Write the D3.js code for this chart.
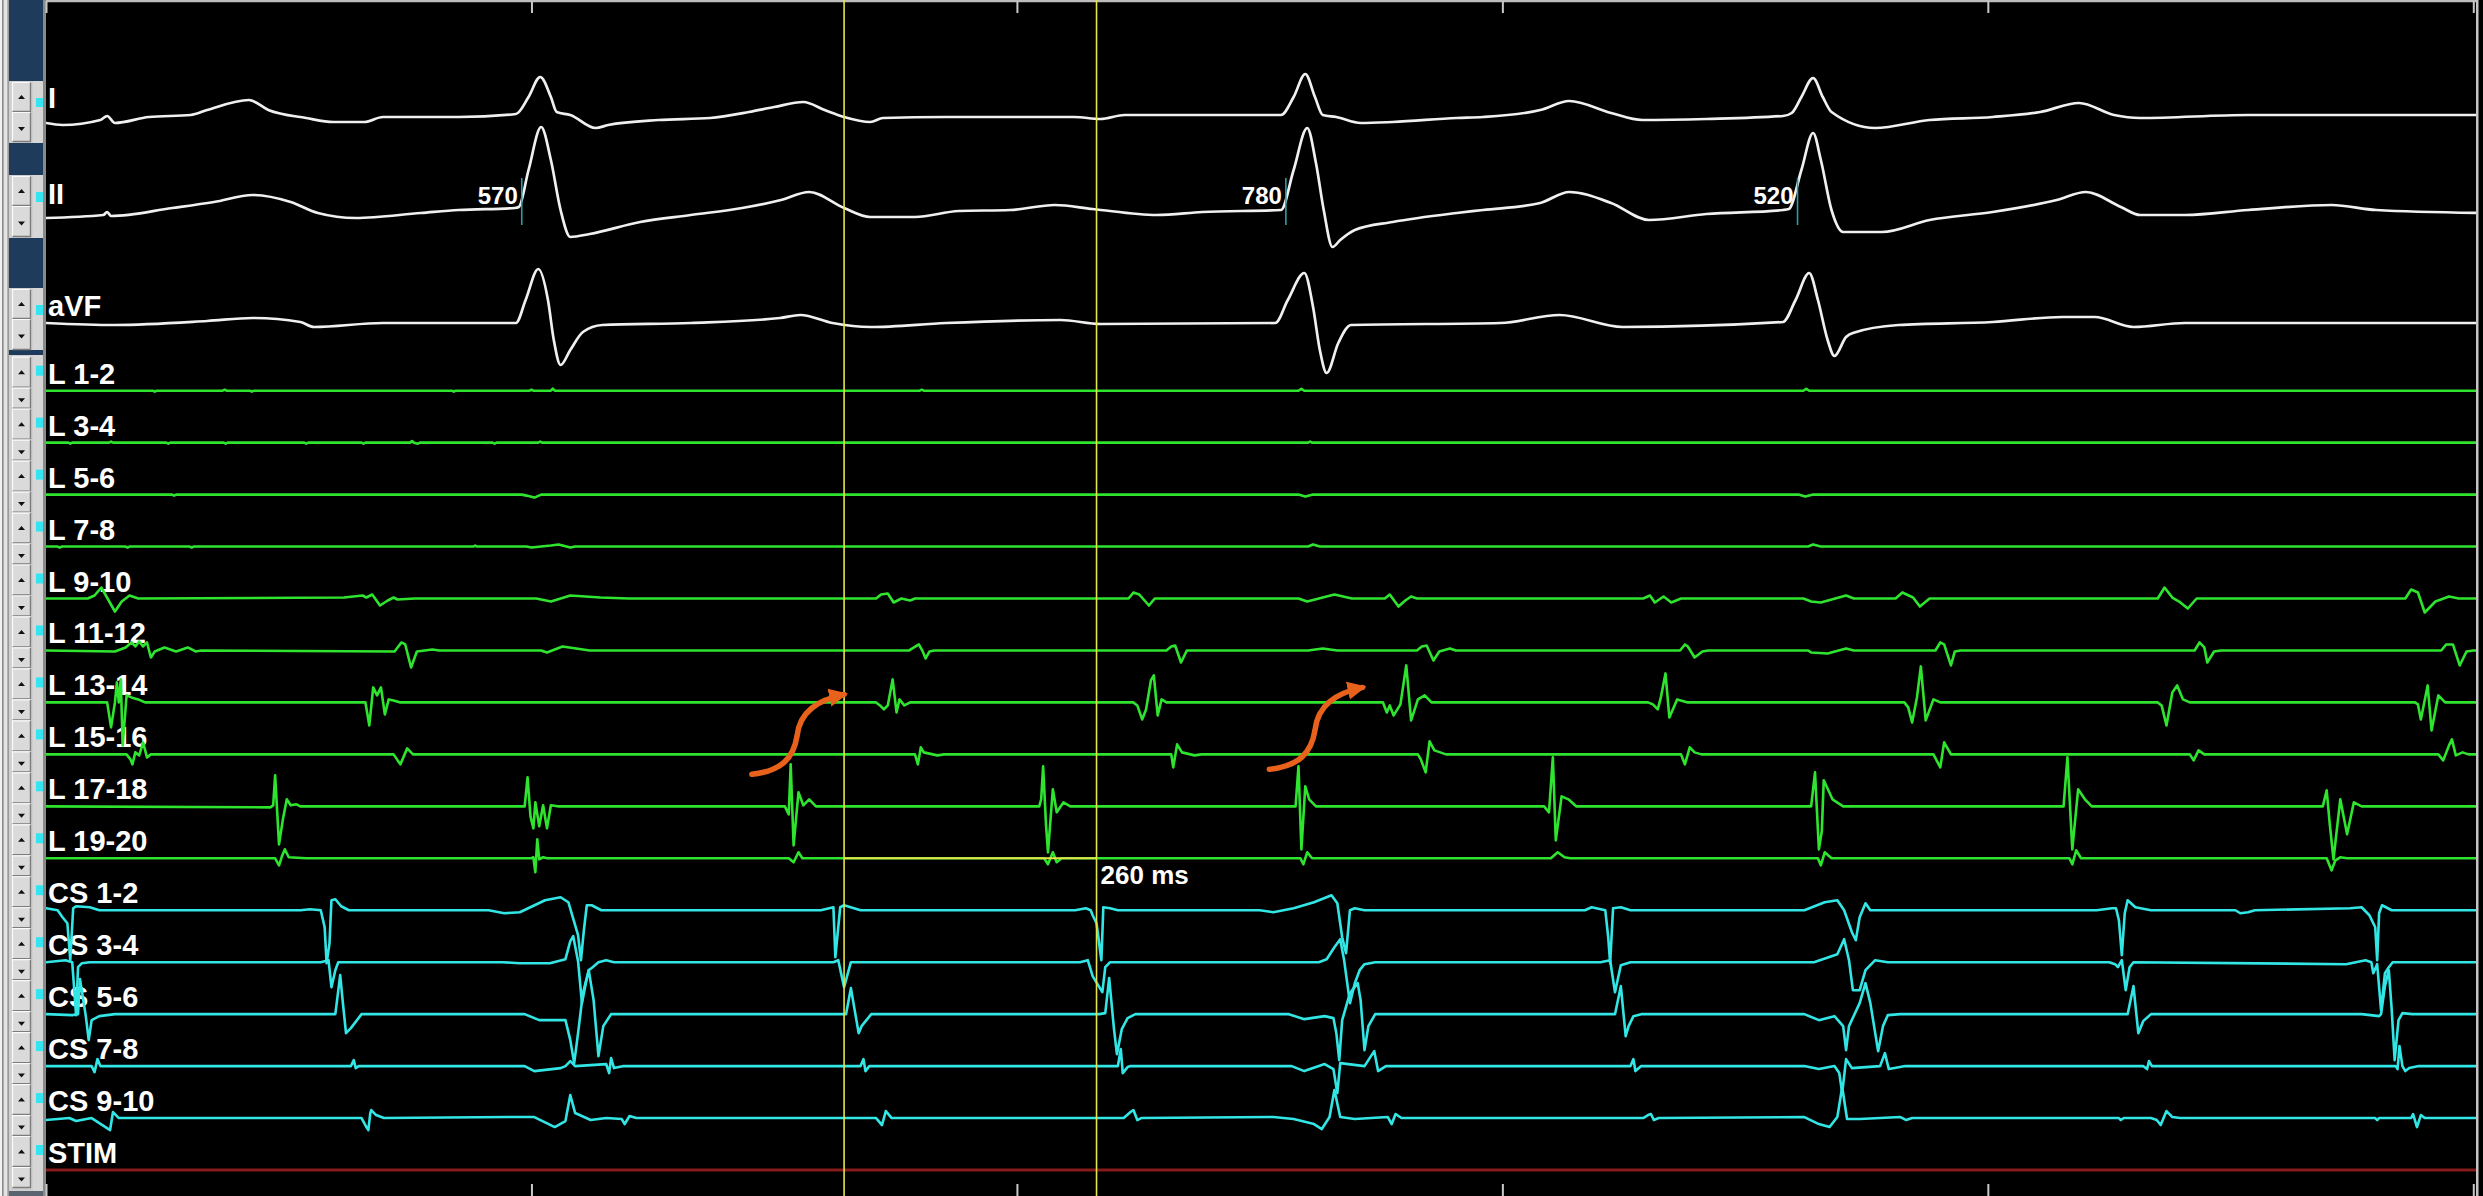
<!DOCTYPE html>
<html><head><meta charset="utf-8">
<script src="https://cdn.jsdelivr.net/npm/d3@7"></script>
<style>html,body{margin:0;padding:0;background:#000;overflow:hidden}</style>
</head><body><svg id="c" width="2483" height="1196"></svg>
<script>
// ---------------- DATA (time in ms, amplitude in display units, up = positive) ----------------
const timeTicks = [0, 500, 1000, 1500, 2000, 2500];
const ecgNames = ["I", "II", "aVF"];
const laneNames = ["L 1-2","L 3-4","L 5-6","L 7-8","L 9-10","L 11-12","L 13-14","L 15-16","L 17-18","L 19-20",
                   "CS 1-2","CS 3-4","CS 5-6","CS 7-8","CS 9-10","STIM"];

const leadI = [[0,-5],[17,-7],[56,-2],[63,2],[71,-5],[106,1],[149,3],[166,8],[209,18],[229,8],[268,0],[296,-4],[328,-4],[347,1],[425,1],[484,4],[497,21],[509,41],[520,21],[526,6],[540,3],[566,-10],[579,-7],[631,-2],[684,0],[724,6],[750,11],[780,16],[802,8],[822,1],[849,-4],[862,0],[927,1],[993,1],[1059,1],[1086,-1],[1111,3],[1272,3],[1285,21],[1297,44],[1307,21],[1315,3],[1329,1],[1354,-5],[1387,-4],[1453,0],[1480,1],[1539,8],[1569,17],[1612,5],[1644,-2],[1710,-1],[1789,2],[1798,5],[1808,21],[1820,40],[1830,21],[1839,6],[1884,-10],[1940,-2],[2005,1],[2054,6],[2094,15],[2130,3],[2157,0],[2268,3],[2510,3]];
const leadII = [[0,-6],[59,-3],[63,0],[67,-4],[130,4],[173,10],[213,17],[252,10],[280,-1],[319,-6],[386,-1],[425,2],[483,4],[487,5],[497,42],[510,85],[520,52],[530,2],[540,-25],[560,-22],[612,-10],[664,-3],[717,4],[757,12],[786,20],[822,4],[849,-5],[895,-5],[940,1],[993,2],[1039,7],[1078,3],[1144,-3],[1191,0],[1272,2],[1285,42],[1299,84],[1308,49],[1316,2],[1325,-35],[1333,-28],[1348,-18],[1387,-10],[1453,-1],[1480,2],[1539,9],[1569,20],[1612,9],[1651,-8],[1710,-2],[1789,2],[1795,3],[1808,42],[1820,79],[1828,52],[1839,2],[1851,-20],[1891,-20],[1940,-8],[2005,0],[2071,12],[2101,20],[2137,5],[2157,-3],[2203,-3],[2268,2],[2354,7],[2400,2],[2510,-1]];
const leadAVF = [[0,0],[71,-2],[166,2],[213,5],[262,1],[276,-4],[347,0],[484,0],[494,23],[507,54],[517,23],[523,-17],[530,-42],[540,-27],[553,-9],[573,-2],[664,0],[756,5],[777,8],[810,0],[849,-4],[927,0],[1045,3],[1086,-1],[1266,0],[1279,23],[1296,50],[1305,16],[1312,-27],[1319,-50],[1331,-20],[1344,-2],[1498,0],[1559,8],[1624,-4],[1789,1],[1802,23],[1816,50],[1825,23],[1835,-17],[1842,-33],[1854,-14],[1861,-10],[1908,-2],[2005,1],[2077,6],[2110,6],[2150,-4],[2203,0],[2510,0]];

const l12 = [[0,0],[110,0],[112,-1],[114,0],[182,0],[184,1],[186,0],[210,0],[212,-1],[214,0],[418,0],[420,-1],[422,0],[498,0],[500,1],[502,0],[520,0],[522,2],[524,0],[900,0],[902,1],[904,0],[1290,0],[1293,2],[1296,0],[1810,0],[1813,2],[1816,0],[2510,0]];
const l34 = [[0,0],[23,0],[25,-1],[27,0],[65,0],[67,1],[69,0],[124,0],[126,-1],[128,0],[183,0],[185,-1],[187,0],[266,0],[268,-1],[270,0],[325,0],[327,-1],[329,0],[375,0],[377,1.5],[379,0],[383,-1],[385,0],[460,0],[462,-1],[464,0],[507,0],[509,1],[511,0],[1300,0],[1302,1],[1304,0],[2510,0]];
const l56 = [[0,0],[130,0],[132,-1],[134,0],[490,0],[495,-1],[503,-3],[510,0],[1290,0],[1297,-2],[1305,0],[1805,0],[1812,-2],[1820,0],[2510,0]];
const l78 = [[0,0],[12,0],[14,-1],[16,0],[82,0],[84,-1],[86,0],[148,0],[150,-1],[152,0],[440,0],[442,1],[444,0],[495,0],[500,-1],[520,1],[528,2],[536,0],[540,-1],[545,0],[1300,0],[1305,2],[1312,0],[1815,0],[1820,2],[1828,0],[2510,0]];
const l910 = [[0,0],[43,0],[50,3],[57,11],[64,-1],[71,-13],[78,-3],[86,3],[95,0],[307,1],[326,3],[330,1],[336,4],[344,-7],[352,-2],[358,1],[362,-1],[380,0],[505,0],[520,-3],[540,3],[571,1],[600,0],[855,0],[860,4],[867,5],[873,-4],[881,0],[890,-2],[895,0],[1115,0],[1120,6],[1126,4],[1136,-7],[1142,0],[1290,0],[1299,-3],[1327,4],[1336,2],[1345,0],[1379,0],[1384,4],[1393,-8],[1400,-2],[1406,2],[1412,0],[1645,0],[1652,3],[1657,-4],[1666,2],[1674,-4],[1684,0],[1810,0],[1818,-3],[1828,-4],[1854,3],[1862,0],[1905,0],[1912,6],[1923,1],[1930,-8],[1940,0],[2175,0],[2182,11],[2190,1],[2197,-3],[2206,-10],[2215,0],[2430,0],[2436,9],[2443,6],[2450,-14],[2461,-3],[2475,2],[2485,0],[2510,0]];
const l1112 = [[0,0],[71,-1],[82,3],[88,8],[92,4],[96,9],[100,4],[104,8],[108,-7],[112,-1],[122,3],[134,-1],[146,3],[154,-1],[160,0],[359,-1],[366,8],[370,6],[376,-17],[382,-1],[398,1],[405,0],[510,0],[516,-2],[532,4],[560,0],[889,0],[894,3],[899,6],[903,-1],[906,-8],[910,-1],[915,0],[1154,0],[1159,4],[1163,5],[1169,-12],[1175,0],[1300,0],[1315,2],[1330,0],[1412,0],[1417,4],[1422,5],[1429,-10],[1435,-1],[1446,2],[1452,0],[1683,0],[1688,6],[1691,4],[1698,-7],[1706,-1],[1712,0],[1815,0],[1818,-2],[1835,-3],[1854,2],[1862,0],[1946,0],[1951,8],[1955,6],[1962,-15],[1966,-1],[1972,0],[2213,0],[2218,8],[2223,3],[2226,-12],[2233,-1],[2240,0],[2467,0],[2472,6],[2479,6],[2486,-15],[2493,-1],[2500,0],[2510,0]];
const l1314 = [[0,0],[63,0],[67,-25],[71,0],[73,20],[75,0],[77,23],[79,-43],[83,7],[88,5],[95,3],[102,0],[329,0],[333,-23],[337,15],[341,7],[345,15],[349,-12],[353,3],[358,2],[365,0],[855,0],[859,-3],[863,-7],[867,-3],[872,23],[876,-10],[879,3],[884,-3],[890,0],[1120,0],[1124,-3],[1129,-17],[1133,-7],[1138,22],[1141,27],[1145,-13],[1149,3],[1154,0],[1377,0],[1381,-10],[1384,-3],[1388,-13],[1395,-2],[1401,37],[1406,-18],[1413,3],[1420,7],[1427,0],[1650,0],[1655,-2],[1660,-7],[1663,4],[1668,29],[1672,-15],[1680,3],[1691,0],[1914,0],[1918,-5],[1922,-20],[1927,5],[1931,36],[1936,-18],[1944,3],[1951,0],[2175,0],[2179,-3],[2184,-23],[2190,10],[2195,17],[2201,3],[2208,0],[2440,0],[2443,-2],[2446,-17],[2453,17],[2457,-28],[2464,7],[2471,0],[2510,0]];
const l1516 = [[0,0],[83,0],[87,-5],[89,-10],[92,2],[96,-1],[100,12],[104,-3],[108,0],[358,0],[365,-10],[372,6],[378,0],[895,0],[898,-10],[901,7],[904,2],[918,-1],[925,0],[1159,0],[1161,-13],[1165,10],[1170,2],[1183,-1],[1190,0],[1413,0],[1416,-5],[1421,-18],[1425,13],[1430,4],[1442,0],[1684,0],[1688,-10],[1693,7],[1698,2],[1705,0],[1944,0],[1951,-13],[1955,12],[1962,0],[2208,0],[2212,-6],[2217,4],[2223,0],[2464,0],[2469,-6],[2475,9],[2478,15],[2482,-1],[2489,2],[2495,0],[2510,0]];
const l1718 = [[0,0],[231,-1],[234,1],[236,31],[240,-38],[244,-13],[248,7],[252,1],[258,2],[262,0],[493,0],[496,29],[499,-10],[502,-22],[504,4],[508,-20],[512,1],[516,-22],[520,1],[527,0],[761,0],[765,-8],[767,42],[770,-39],[775,14],[780,1],[786,7],[793,0],[1023,0],[1025,7],[1027,40],[1030,-19],[1032,-46],[1037,17],[1041,-6],[1048,4],[1055,0],[1287,0],[1290,40],[1293,-43],[1297,20],[1301,7],[1308,0],[1543,0],[1548,-6],[1552,49],[1555,-34],[1561,10],[1568,7],[1576,0],[1818,0],[1822,34],[1826,-43],[1829,-25],[1831,26],[1840,7],[1851,0],[2078,0],[2082,49],[2087,-43],[2093,17],[2100,7],[2107,0],[2345,0],[2349,16],[2352,-16],[2356,-53],[2363,7],[2370,-28],[2377,4],[2385,0],[2510,0]];
const l1920 = [[0,0],[236,0],[240,-7],[243,2],[246,9],[250,1],[268,0],[500,0],[502,1],[504,-14],[506,19],[508,-1],[512,1],[516,0],[765,0],[770,-4],[775,6],[779,0],[1028,0],[1032,-6],[1037,6],[1041,-4],[1046,0],[1292,0],[1295,-6],[1299,6],[1304,0],[1550,0],[1557,6],[1564,1],[1570,0],[1825,0],[1828,-7],[1832,6],[1839,0],[2084,0],[2087,-6],[2091,8],[2096,0],[2349,0],[2354,-12],[2358,-2],[2363,1],[2370,0],[2510,0]];

const cs12 = [[0,2],[12,0],[17,-7],[22,-13],[25,-50],[28,2],[31,4],[45,3],[55,0],
  [262,0],[272,1],[283,0],[287,-17],[289,-53],[292,-33],[294,10],[298,11],[304,4],[312,0],
  [456,0],[472,-3],[488,-2],[514,10],[530,13],[538,8],[548,-25],[551,-50],[554,-20],[557,5],[562,5],[572,0],
  [798,0],[811,3],[813,-47],[818,3],[822,5],[839,0],
  [1060,0],[1071,2],[1076,0],[1078,-5],[1082,-13],[1087,-50],[1089,3],[1096,2],[1104,0],
  [1250,0],[1264,-2],[1285,2],[1306,8],[1324,15],[1330,7],[1335,-27],[1339,-43],[1343,0],[1348,2],[1358,0],
  [1585,0],[1592,3],[1606,0],[1609,-27],[1611,-53],[1614,2],[1622,3],[1632,0],
  [1811,0],[1832,8],[1845,10],[1852,0],[1860,-22],[1864,-30],[1868,-7],[1874,7],[1879,0],
  [2112,0],[2128,2],[2132,2],[2135,-10],[2138,-45],[2141,-3],[2144,10],[2152,3],[2168,0],
  [2255,0],[2260,-3],[2268,-2],[2275,0],
  [2373,2],[2385,3],[2393,-5],[2399,-17],[2401,-50],[2403,-3],[2406,5],[2416,0],[2510,0]];
const cs34 = [[0,0],[20,2],[27,0],[31,-53],[33,-5],[37,-1],[45,0],
  [262,0],[283,0],[291,2],[294,-25],[298,-8],[301,0],
  [470,0],[488,-1],[519,-1],[535,3],[540,21],[543,26],[548,1],[552,-41],[556,-21],[559,-8],[563,-5],[569,0],[577,2],[585,0],
  [805,0],[811,0],[816,2],[822,-25],[829,0],
  [1065,0],[1073,2],[1078,-14],[1088,-30],[1091,-5],[1096,0],
  [1275,0],[1311,0],[1319,3],[1327,15],[1333,23],[1337,2],[1343,-41],[1348,-21],[1353,-8],[1358,-2],[1369,0],
  [1601,0],[1611,2],[1616,-30],[1622,-3],[1632,0],
  [1821,0],[1845,8],[1852,23],[1857,2],[1861,-28],[1868,-28],[1874,-8],[1884,2],[1897,0],
  [2125,0],[2131,-2],[2134,-5],[2138,2],[2142,-28],[2146,-5],[2150,0],
  [2369,-2],[2389,2],[2395,0],[2397,-11],[2401,-2],[2405,-48],[2409,-11],[2413,-5],[2417,0],[2510,0]];
const cs56 = [[0,0],[27,-1],[33,0],[35,35],[41,-2],[44,-26],[47,-6],[55,-2],[71,0],
  [290,0],[298,0],[303,39],[306,9],[309,-19],[314,-14],[325,0],
  [470,0],[493,0],[508,-6],[535,-6],[540,-26],[544,-49],[548,-19],[553,21],[559,44],[564,14],[569,-42],[574,-12],[582,0],
  [820,0],[824,0],[829,26],[837,-19],[840,-12],[845,-6],[850,0],
  [1085,0],[1091,1],[1095,36],[1100,-15],[1103,-40],[1108,-15],[1114,-4],[1122,0],
  [1270,0],[1280,0],[1296,-5],[1317,-2],[1326,-4],[1329,-19],[1332,-46],[1335,-6],[1343,21],[1351,31],[1354,14],[1358,-36],[1362,-12],[1369,0],
  [1610,0],[1616,0],[1622,28],[1627,-22],[1630,-12],[1635,-2],[1643,0],
  [1811,0],[1826,-6],[1842,-2],[1851,-12],[1854,-36],[1857,-12],[1868,11],[1874,31],[1879,11],[1887,-37],[1892,-12],[1897,-1],[1910,0],
  [2140,0],[2144,0],[2150,28],[2155,-19],[2160,-7],[2168,0],
  [2385,0],[2403,-2],[2405,0],[2409,28],[2413,44],[2416,4],[2419,-46],[2423,-6],[2427,1],[2437,0],[2510,0]];
const cs78 = [[0,0],[47,0],[50,-6],[53,7],[56,0],
  [314,0],[317,6],[319,-2],[322,0],
  [493,0],[503,-5],[530,-2],[535,0],[540,5],[545,0],[577,2],[580,-7],[582,8],[585,-2],[595,0],
  [839,0],[842,7],[844,-5],[848,0],
  [1104,0],[1107,17],[1109,-7],[1114,-1],[1117,0],
  [1283,0],[1296,-5],[1317,2],[1326,-3],[1330,-27],[1333,3],[1358,0],[1368,15],[1372,-5],[1380,0],
  [1632,0],[1635,7],[1637,-5],[1643,0],
  [1811,0],[1826,-3],[1842,0],[1847,-7],[1850,-27],[1854,7],[1860,-2],[1889,0],[1894,13],[1898,-3],[1904,-2],[1915,0],
  [2160,0],[2164,-3],[2166,5],[2169,0],
  [2405,0],[2420,0],[2422,-3],[2424,20],[2427,0],[2430,-5],[2434,-2],[2444,0],[2510,0]];
const cs910 = [[0,-2],[24,0],[31,-3],[47,0],[66,-12],[69,6],[75,0],
  [325,0],[330,-9],[332,-12],[334,5],[335,8],[340,3],[348,0],
  [477,1],[503,1],[524,-9],[535,-3],[540,23],[545,5],[561,-2],[577,0],[593,-1],[596,-6],[601,2],[608,0],
  [855,0],[861,-7],[865,7],[871,0],
  [1110,0],[1117,6],[1120,8],[1124,-2],[1128,0],
  [1264,1],[1285,-1],[1306,-6],[1314,-11],[1322,1],[1327,28],[1333,1],[1348,-1],[1382,1],[1386,-6],[1390,4],[1396,0],
  [1645,0],[1650,3],[1653,4],[1656,-2],[1661,0],
  [1811,1],[1826,-6],[1837,-9],[1845,1],[1850,31],[1855,-1],[1868,-1],[1910,1],[1916,-2],[1922,0],
  [2135,0],[2137,-2],[2140,0],[2168,0],[2174,-2],[2178,-7],[2184,7],[2190,1],[2198,0],
  [2399,0],[2401,-2],[2403,0],[2436,0],[2438,4],[2442,-9],[2446,3],[2450,0],[2510,0]];
const stim = [[0,0],[2510,0]];

const cycleLabels = ["570", "780", "520"];
const cycleTimes = [490, 1277, 1804];
const cursorTimes = [822, 1082];
const cursorLabel = "260 ms";
const arrowTailTimes = [727, 1260];
const arrowTipTimes = [822, 1356];
const arrowTailAmp = [32, 37];   // above L 17-18 baseline
const arrowTipAmp = [8, 15];     // above L 13-14 baseline

// ---------------- DRAWING ----------------
const W = 2483, H = 1196, PL = 46, PR = 2476;
const FONT = "'Liberation Sans', Arial, Helvetica, sans-serif";
const svg = d3.select("#c");
const x = d3.scaleLinear().domain([0, 2510]).range([PL, W]);
const lane = d3.scalePoint().domain(laneNames).range([390.7, 1170]);
const ecgBase = d3.scaleOrdinal().domain(ecgNames).range([118, 212, 323]);
const ampY = base => d3.scaleLinear().domain([-100, 100]).range([base + 100, base - 100]);

svg.append("rect").attr("width", W).attr("height", H).attr("fill", "#000");
const defs = svg.append("defs");
defs.append("clipPath").attr("id", "pc").append("rect")
  .attr("x", PL).attr("y", 0).attr("width", PR - PL).attr("height", H);

// ---- left control panel ----
const panel = svg.append("g");
panel.append("rect").attr("x", 0).attr("y", 0).attr("width", PL).attr("height", H).attr("fill", "#c9c9c9");
[[0,2,"#f2f2f2"],[2,1.5,"#8c8c8c"],[4,3,"#e4e4e4"],[7.5,1.5,"#9a9a9a"],[9,24,"#cfcfcf"],[33,10,"#d6d6d6"],[43,3,"#8a8a8a"]]
  .forEach(([xx,w,c]) => panel.append("rect").attr("x", xx).attr("y", 0).attr("width", w).attr("height", H).attr("fill", c));
const blue = "#1f3b5c";
[[0,81],[143,175],[238,288],[350,355]].forEach(([a,b]) =>
  panel.append("rect").attr("x", 9).attr("y", a).attr("width", 34).attr("height", b - a).attr("fill", blue));
panel.append("rect").attr("x", 9).attr("y", 1191).attr("width", 34).attr("height", 5).attr("fill", "#5a6470");

function button(y0, y1, up) {
  const g = panel.append("g");
  g.append("rect").attr("x", 12).attr("y", y0).attr("width", 19).attr("height", y1 - y0).attr("fill", "#dadada");
  g.append("path").attr("d", `M12.5,${y1-0.5}V${y0+0.5}H30.5`).attr("fill", "none").attr("stroke", "#fafafa").attr("stroke-width", 1.2);
  g.append("path").attr("d", `M12.5,${y1-0.5}H30.5V${y0+0.5}`).attr("fill", "none").attr("stroke", "#7c7c7c").attr("stroke-width", 1.4);
  const cy = (y0 + y1) / 2 + (up ? 0 : 2);
  const d = up ? `M18,${cy+2}L21.5,${cy-2}L25,${cy+2}Z` : `M18,${cy-2}L21.5,${cy+2}L25,${cy-2}Z`;
  g.append("path").attr("d", d).attr("fill", "#111");
}
const ecgButtons = {"I": [82,112,142], "II": [176,206,237], "aVF": [289,319,350]};
const ecgSquares = {"I": [98,107], "II": [192,202], "aVF": [305,315]};
const ecgLabelY = {"I": 108, "II": 204, "aVF": 316};
ecgNames.forEach(n => { const [a,m,b] = ecgButtons[n]; button(a, m, true); button(m, b, false); });
laneNames.forEach(n => { const b = lane(n); button(b - 34, b - 3, true); button(b - 3, b + 18, false); });

// cyan indicator squares
const sq = "#34e4f0";
ecgNames.forEach(n => { const [a,b] = ecgSquares[n];
  panel.append("rect").attr("x", 36).attr("y", a).attr("width", 7).attr("height", b - a).attr("fill", sq); });
laneNames.forEach(n => { const b = lane(n);
  panel.append("rect").attr("x", 36).attr("y", b - 25).attr("width", 7).attr("height", 10).attr("fill", sq); });

// ---- time ticks (top & bottom) ----
const topAxis = svg.append("g").attr("transform", "translate(0,1)")
  .call(d3.axisBottom(x).tickValues(timeTicks).tickSize(12).tickFormat(""));
topAxis.select(".domain").attr("stroke", "#bdbdbd").attr("stroke-width", 2.5).attr("d", `M${PL},0H${PR}`);
topAxis.selectAll(".tick line").attr("stroke", "#c8c8c8").attr("stroke-width", 2);
const botAxis = svg.append("g").attr("transform", `translate(0,${H})`)
  .call(d3.axisTop(x).tickValues(timeTicks).tickSize(12).tickFormat(""));
botAxis.select(".domain").remove();
botAxis.selectAll(".tick line").attr("stroke", "#c8c8c8").attr("stroke-width", 2);
svg.append("rect").attr("x", PR).attr("y", 0).attr("width", 2.5).attr("height", H).attr("fill", "#c4c4c4");

// ---- channel labels ----
const labels = svg.append("g").attr("font-family", FONT).attr("font-weight", "bold")
  .attr("font-size", 29).attr("fill", "#fff");
ecgNames.forEach(n => labels.append("text").attr("x", 48).attr("y", ecgLabelY[n]).text(n));
laneNames.forEach(n => labels.append("text").attr("x", 48).attr("y", lane(n) - 7).text(n));

// ---- traces ----
const traces = svg.append("g").attr("clip-path", "url(#pc)").attr("fill", "none")
  .attr("stroke-linejoin", "round").attr("stroke-linecap", "round");
const ecgData = {"I": leadI, "II": leadII, "aVF": leadAVF};
const laneData = [l12, l34, l56, l78, l910, l1112, l1314, l1516, l1718, l1920, cs12, cs34, cs56, cs78, cs910, stim];
const laneColor = i => i < 10 ? "#2fe42f" : (i < 15 ? "#33e6e6" : "#861b1b");

laneNames.forEach((n, i) => {
  const y = ampY(lane(n));
  const line = d3.line().x(d => x(d[0])).y(d => y(d[1])).curve(d3.curveLinear);
  traces.append("path").attr("d", line(laneData[i])).attr("stroke", laneColor(i))
    .attr("stroke-width", i === 15 ? 3 : 2.6);
});
ecgNames.forEach(n => {
  const y = ampY(ecgBase(n));
  const line = d3.line().x(d => x(d[0])).y(d => y(d[1])).curve(d3.curveMonotoneX);
  traces.append("path").attr("d", line(ecgData[n])).attr("stroke", "#f0f0f0").attr("stroke-width", 2.7);
});

// ---- cycle-length markers on lead II ----
const yII = ampY(ecgBase("II"));
cycleTimes.forEach((t, i) => {
  svg.append("line").attr("x1", x(t)).attr("x2", x(t)).attr("y1", yII(34)).attr("y2", yII(-13))
    .attr("stroke", "#2a9fa6").attr("stroke-width", 1.6);
  svg.append("text").attr("x", x(t) - 4).attr("y", yII(8)).attr("text-anchor", "end")
    .attr("font-family", FONT).attr("font-weight", "bold").attr("font-size", 24).attr("fill", "#fff")
    .text(cycleLabels[i]);
});

// ---- calipers ----
const yellow = "#e4e44a";
cursorTimes.forEach(t => svg.append("line").attr("x1", x(t)).attr("x2", x(t)).attr("y1", 0).attr("y2", H)
  .attr("stroke", yellow).attr("stroke-width", 1.6));
const yL20 = lane("L 19-20");
svg.append("line").attr("x1", x(cursorTimes[0])).attr("x2", x(cursorTimes[1])).attr("y1", yL20).attr("y2", yL20)
  .attr("stroke", yellow).attr("stroke-width", 2);
svg.append("text").attr("x", x(cursorTimes[1]) + 4).attr("y", yL20 + 26)
  .attr("font-family", FONT).attr("font-weight", "bold").attr("font-size", 26).attr("fill", "#fff").text(cursorLabel);

// ---- orange arrows ----
const orange = "#e8621c";
defs.append("marker").attr("id", "ah").attr("viewBox", "0 -10 20 20").attr("refX", 15).attr("refY", 0)
  .attr("markerWidth", 20).attr("markerHeight", 20).attr("markerUnits", "userSpaceOnUse").attr("orient", "auto")
  .append("path").attr("d", "M0,-9L19,0L0,9Z").attr("fill", orange);
const yTail = ampY(lane("L 17-18")), yTip = ampY(lane("L 13-14"));
arrowTailTimes.forEach((t, i) => {
  const x0 = x(t), y0 = yTail(arrowTailAmp[i]), x1 = x(arrowTipTimes[i]), y1 = yTip(arrowTipAmp[i]);
  const dx = x1 - x0, dy = y1 - y0;
  const p = d3.path();
  p.moveTo(x0, y0);
  p.bezierCurveTo(x0 + 0.31*dx, y0 + 0.04*dy, x0 + 0.45*dx, y0 + 0.19*dy, x0 + 0.49*dx, y0 + 0.48*dy);
  p.bezierCurveTo(x0 + 0.52*dx, y0 + 0.79*dy, x0 + 0.72*dx, y0 + 0.93*dy, x1, y1);
  svg.append("path").attr("d", p.toString()).attr("fill", "none").attr("stroke", orange)
    .attr("stroke-width", 5.5).attr("stroke-linecap", "round").attr("marker-end", "url(#ah)");
});
</script></body></html>
